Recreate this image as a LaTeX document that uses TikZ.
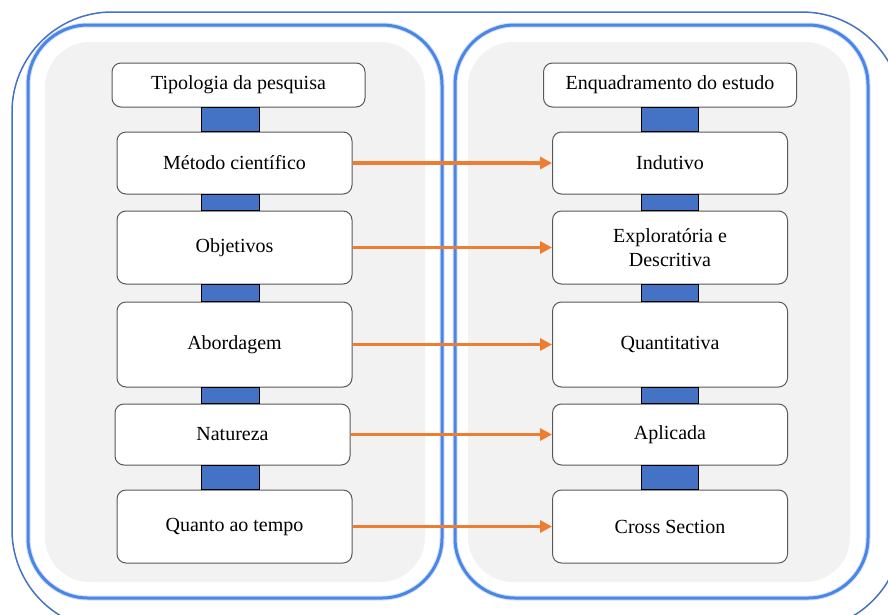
\documentclass[tikz,border=0pt]{standalone}
\usepackage{fontspec}
\setmainfont{Liberation Serif}
\usepackage{xcolor}
\usetikzlibrary{arrows.meta, calc}
\definecolor{frameblue}{RGB}{68,114,196}
\definecolor{panelblue}{RGB}{74,134,232}
\definecolor{barblue}{RGB}{68,114,196}
\definecolor{panelgray}{RGB}{242,242,242}
\definecolor{arroworange}{RGB}{237,125,49}
\definecolor{boxedge}{RGB}{89,89,89}

\begin{document}
\begin{tikzpicture}[
    x=1pt, y=-1pt,
    panel/.style={draw=panelblue, line width=3pt, rounded corners=60pt},
    glow/.style={draw=panelblue!25, line width=5pt, rounded corners=60pt},
    shade/.style={fill=panelgray, rounded corners=45pt},
    item/.style={rectangle, draw=boxedge, fill=white, line width=1pt, rounded corners=9pt, inner sep=0pt, minimum width=235pt, align=center, font=\fontsize{20}{24}\selectfont},
    head/.style={item, minimum width=253pt, minimum height=44pt},
    bar/.style={fill=barblue, draw=black, line width=1pt},
    arr/.style={-{Triangle[length=12pt,width=12pt]}, line width=3.5pt, arroworange}
]
\clip (0,0) rectangle (888,614);

% frames and panels
\fill[white] (0,0) rectangle (888,614);
\draw[frameblue, line width=1.5pt, rounded corners=100pt] (12,12) rectangle (902,630);
\draw[glow] (28,25) rectangle (442,598);
\draw[glow] (455,25) rectangle (868,598);
\draw[panel] (28,25) rectangle (442,598);
\draw[panel] (455,25) rectangle (868,598);
\fill[shade] (45,42) rectangle (425,582);
\fill[shade] (468,42) rectangle (850,582);

% left column
\node[head] (hl) at (238.5,85) {Tipologia da pesquisa};
\node[item, minimum height=62pt] (l1) at (234.5,163) {Método científico};
\node[item, minimum height=73pt] (l2) at (234.5,247.5) {Objetivos};
\node[item, minimum height=85pt] (l3) at (234.5,344.5) {Abordagem};
\node[item, minimum height=61pt] (l4) at (232.5,434.5) {Natureza};
\node[item, minimum height=73pt] (l5) at (234.5,526.5) {Quanto ao tempo};

% right column
\node[head] (hr) at (670,85) {Enquadramento do estudo};
\node[item, minimum height=62pt] (r1) at (670,163) {Indutivo};
\node[item, minimum height=73pt] (r2) at (670,247.5) {Exploratória e\\Descritiva};
\node[item, minimum height=85pt] (r3) at (670,344.5) {Quantitativa};
\node[item, minimum height=61pt] (r4) at (670,434.5) {Aplicada};
\node[item, minimum height=73pt] (r5) at (670,526.5) {Cross Section};

% connecting bars
\draw[bar] (201,0 |- hl.south) rectangle (259,0 |- l1.north);
\draw[bar] (201,0 |- l1.south) rectangle (259,0 |- l2.north);
\draw[bar] (201,0 |- l2.south) rectangle (259,0 |- l3.north);
\draw[bar] (201,0 |- l3.south) rectangle (259,0 |- l4.north);
\draw[bar] (201,0 |- l4.south) rectangle (259,0 |- l5.north);
\draw[bar] (641,0 |- hr.south) rectangle (698,0 |- r1.north);
\draw[bar] (641,0 |- r1.south) rectangle (698,0 |- r2.north);
\draw[bar] (641,0 |- r2.south) rectangle (698,0 |- r3.north);
\draw[bar] (641,0 |- r3.south) rectangle (698,0 |- r4.north);
\draw[bar] (641,0 |- r4.south) rectangle (698,0 |- r5.north);

% arrows
\draw[arr] (l1.east) -- (r1.west);
\draw[arr] (l2.east) -- (r2.west);
\draw[arr] (l3.east) -- (r3.west);
\draw[arr] (l4.east) -- (r4.west);
\draw[arr] (l5.east) -- (r5.west);
\end{tikzpicture}
\end{document}
